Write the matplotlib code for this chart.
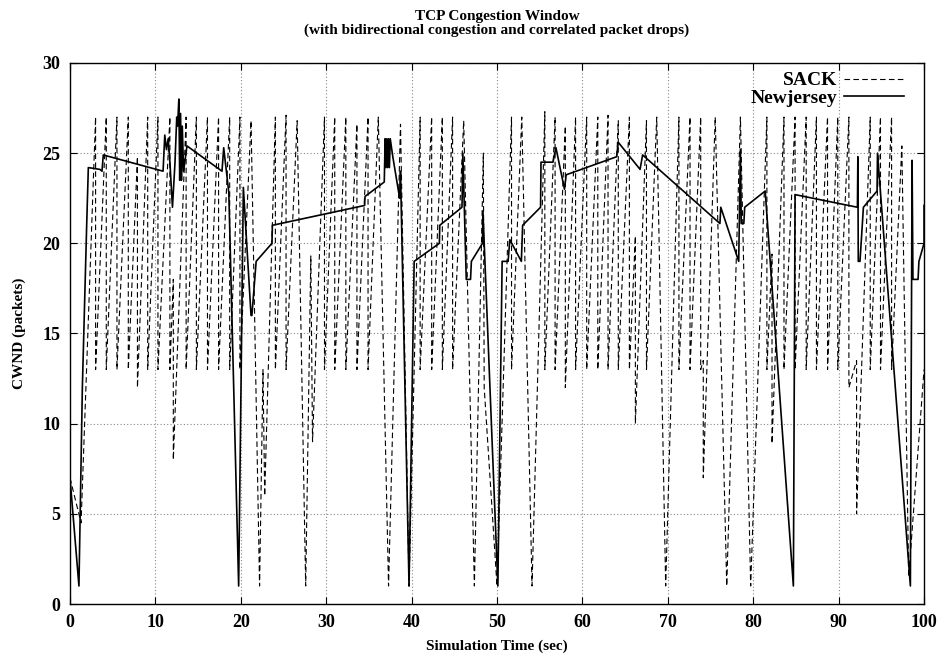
import matplotlib.pyplot as plt

plt.rcParams['font.family'] = ['Liberation Serif', 'DejaVu Serif']
plt.rcParams['font.weight'] = 'bold'

# SACK congestion window: (time, cwnd) vertices of the trace
sack_t = [0, 1.3, 3.0, 3.0, 4.25, 4.25, 5.5, 5.5, 6.83, 6.83, 7.9, 7.9,
          9.1, 9.1, 10.3, 10.3, 11.7, 11.7, 12.1, 12.1, 13.6, 13.6, 14.8, 14.8,
          16.1, 16.1, 17.4, 17.4, 18.7, 18.7, 19.9, 19.9, 21.2, 22.2, 22.6, 22.8,
          24.05, 24.05, 25.3, 25.3, 26.6, 27.6, 28.2, 28.4, 29.8, 29.8,
          31.0, 31.0, 32.3, 32.3, 33.6, 33.6, 34.9, 34.9, 36.1, 37.3,
          38.7, 39.7, 41.0, 41.0, 42.35, 42.35, 43.6, 43.6, 44.8, 44.8,
          46.1, 47.35, 48.4, 48.5, 50.0, 51.7, 51.7, 52.9, 54.1, 55.6, 55.6,
          56.8, 56.8, 58.0, 58.0, 59.2, 59.2, 60.5, 60.5, 61.8, 61.8,
          63.0, 63.0, 64.2, 64.2, 65.5, 65.5, 66.2, 66.2, 67.5, 67.5,
          68.7, 69.75, 71.3, 71.3, 72.6, 72.6, 73.85, 73.85, 74.15, 74.15,
          75.55, 76.9, 78.5, 79.7, 81.6, 81.6, 82.2, 82.2, 83.6, 83.6,
          84.9, 84.9, 86.2, 86.2, 87.4, 87.4, 88.7, 88.7, 89.9, 89.9,
          91.2, 91.2, 92.1, 92.1, 93.7, 93.7, 94.9, 94.9, 96.2, 96.2,
          97.4, 98.2, 100]
sack_w = [7, 4.5, 27, 13, 27, 13, 27, 13, 27, 13, 24.8, 12,
          27, 13, 27, 13, 27, 13, 18, 8, 27, 13, 27, 13,
          27, 13, 27, 13, 27, 13, 27, 13, 26.8, 1, 13, 6,
          27, 13, 27.1, 13, 26.8, 1, 19.3, 9, 27, 13,
          27, 13, 27, 13, 26.6, 13, 27, 13, 27, 1,
          26.6, 1, 27, 13, 27, 13, 27, 13, 27, 13,
          26.8, 1, 25, 12, 1, 27, 13, 27, 1, 27.3, 13,
          27, 13, 26.5, 12, 27, 13, 27, 13, 27, 13,
          27.1, 13, 26.8, 13, 27, 13, 20.4, 10, 26.8, 13,
          27, 1, 27, 13, 27, 13, 27, 13, 13.5, 7,
          27, 1, 27, 1, 27, 13, 19.4, 8.9, 27, 13,
          27, 13, 27, 13, 27, 13, 27, 13, 27, 13,
          27, 12, 13.5, 5, 27, 13, 27, 13, 27, 13,
          25.4, 1.5, 13]

# Newjersey congestion window
nj_t = [0, 1.05, 1.45, 1.95, 2.15, 3.5, 3.75, 3.9, 10.9,
        11.1, 11.3, 11.5, 11.7, 12.0, 12.3, 12.5, 12.6, 12.75, 12.85, 12.95,
        13.05, 13.15, 13.3, 13.7, 17.8, 18.0, 18.6, 19.75, 20.3, 21.2, 21.3,
        21.8, 23.65, 23.7, 34.5, 34.55, 36.8, 36.9, 37.0, 37.1, 37.2, 37.3,
        37.4, 37.5, 37.8, 38.6, 38.7, 39.7, 40.3, 43.25, 43.3, 45.9, 46.0,
        46.4, 46.9, 47.0, 48.3, 48.35, 50.1, 50.6, 51.3, 51.5, 52.85, 53.0,
        55.1, 55.15, 56.55, 56.9, 57.9, 58.1, 64.0, 64.2, 66.75, 67.05,
        76.1, 76.2, 78.3, 78.5, 78.6, 78.9, 79.0, 81.4, 84.7, 84.9,
        92.2, 92.25, 92.3, 92.5, 92.9, 94.5, 94.55, 98.4, 98.6, 98.7,
        99.3, 99.4, 100, 100]
nj_w = [7, 1, 12, 20.9, 24.2, 24.1, 24.0, 24.9, 24.0,
        26.0, 25.2, 25.8, 24.5, 22.0, 24.5, 27.0, 26.5, 28.0, 23.5, 27.2,
        23.5, 26.5, 24.0, 25.4, 24.0, 25.3, 22.8, 1, 23.1, 16.0, 16.0,
        19.0, 20.0, 21.0, 22.1, 22.6, 23.4, 25.8, 24.2, 25.8, 24.2, 25.8,
        24.2, 25.8, 24.8, 22.5, 24.0, 1, 19.0, 20.0, 21.0, 22.0, 25.0,
        18.0, 18.0, 19.0, 20.0, 21.8, 1, 19.0, 19.0, 20.2, 19.0, 21.0,
        22.0, 24.5, 24.5, 25.3, 23.0, 23.8, 24.8, 25.6, 24.1, 24.9,
        21.1, 22.0, 19.0, 25.2, 21.1, 21.1, 22.0, 22.9, 1, 22.7,
        22.0, 24.8, 19.0, 19.0, 22.0, 22.9, 25.0, 1, 24.6, 18.0,
        18.0, 19.0, 20.0, 22.1]

fig = plt.figure(figsize=(9.43, 6.65), dpi=100)
ax = fig.add_axes([0.0742, 0.0917, 0.9057, 0.8136])

ax.plot(sack_t, sack_w, color='black', linewidth=0.8, linestyle=(0, (5, 3)), label='SACK')
ax.plot(nj_t, nj_w, color='black', linewidth=1.2, linestyle='-', label='Newjersey')

ax.set_xlim(0, 100)
ax.set_ylim(0, 30)
ax.set_xticks(range(0, 101, 10))
ax.set_yticks(range(0, 31, 5))
ax.grid(True, color='#888888', linestyle=(0, (1, 2)), linewidth=0.8)
ax.tick_params(direction='in', top=True, right=True, length=5, labelsize=13,
               width=0.8, pad=7)
for lab in ax.get_xticklabels() + ax.get_yticklabels():
    lab.set_fontweight('bold')
for s in ax.spines.values():
    s.set_linewidth(1.0)

ax.set_title('TCP Congestion Window\n(with bidirectional congestion and correlated packet drops)',
             fontsize=11, fontweight='bold', pad=21, linespacing=1.05)
ax.set_xlabel('Simulation Time (sec)', fontsize=11, fontweight='bold', labelpad=6)
ax.set_ylabel('CWND (packets)', fontsize=11, fontweight='bold', labelpad=12)

ax.legend(loc='upper right', bbox_to_anchor=(0.987, 1.0), frameon=False,
          markerfirst=False, handlelength=3.1,
          prop={'weight': 'bold', 'size': 14}, borderaxespad=0.15, labelspacing=0.0,
          handletextpad=0.35, borderpad=0.3)

fig.savefig('out.png', dpi=100)
